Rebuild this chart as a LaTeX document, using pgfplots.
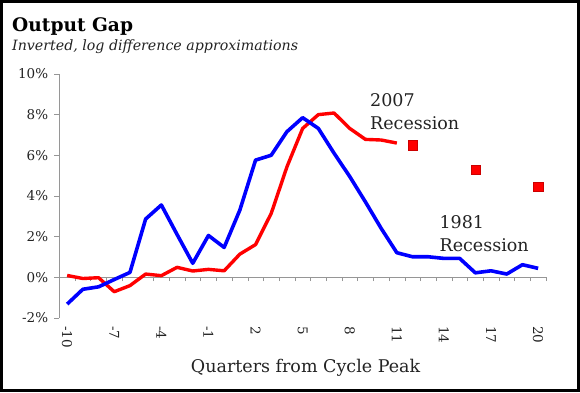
\documentclass[border=0pt]{standalone}
\usepackage{pgfplots}
\pgfplotsset{compat=1.18}
\usepackage{fontspec}
\setmainfont{DejaVu Serif}
\definecolor{axgray}{RGB}{150,150,150}
\definecolor{txt}{RGB}{35,35,35}
\begin{document}
\begin{tikzpicture}
\useasboundingbox (-59.3pt,-74.3pt) rectangle (520.7pt,317.7pt);
\begin{axis}[
  at={(0,0)}, anchor=south west,
  scale only axis, width=486.7pt, height=243.7pt,
  xmin=-10.5, xmax=20.5, ymin=-2, ymax=10,
  axis x line=middle, axis y line*=left,
  axis line style={axgray, -},
  tick align=outside,
  xtick={-10,-7,...,20},
  minor xtick={-10.5,-9.5,...,20.5},
  every major x tick/.style={draw=none},
  minor tick length=4pt,
  major tick length=5pt,
  tick style={axgray, thin},
  ytick={-2,0,...,10},
  yticklabel={\pgfmathprintnumber{\tick}\%},
  /pgf/number format/assume math mode=true,
  ticklabel style={font=\fontsize{13.5}{15}\selectfont, text=txt},
  yticklabel style={inner sep=1pt, xshift=-5pt},
  xticklabel style={rotate=-90, anchor=west, inner sep=0pt},
  xticklabel shift=44pt,
  clip=false,
]
\addplot[red, line width=3.4pt, line join=round] coordinates {
(-10,0.08) (-9,-0.07) (-8,-0.03) (-7,-0.72) (-6,-0.42) (-5,0.15) (-4,0.07)
(-3,0.48) (-2,0.30) (-1,0.38) (0,0.31) (1,1.13) (2,1.60) (3,3.14) (4,5.43)
(5,7.32) (6,8.00) (7,8.08) (8,7.32) (9,6.78) (10,6.75) (11,6.60)};
\addplot[only marks, mark=square*, mark size=4.6pt, color=red,
  mark options={fill=red, draw=red!80!black, line width=0.4pt}] coordinates {
(12,6.49) (16,5.27) (20,4.45)};
\addplot[blue, line width=3.6pt, line join=round] coordinates {
(-10,-1.33) (-9,-0.60) (-8,-0.48) (-7,-0.12) (-6,0.23) (-5,2.86) (-4,3.55)
(-3,2.10) (-2,0.68) (-1,2.05) (0,1.46) (1,3.30) (2,5.76) (3,6.00) (4,7.16)
(5,7.85) (6,7.32) (7,6.10) (8,4.95) (9,3.70) (10,2.40) (11,1.20) (12,1.00)
(13,1.00) (14,0.92) (15,0.92) (16,0.21) (17,0.31) (18,0.15) (19,0.61) (20,0.43)};
\node[anchor=base west, inner sep=0pt, text=txt, font=\fontsize{17.5}{20}\selectfont] at (axis cs:9.29,8.42) {2007};
\node[anchor=base west, inner sep=0pt, text=txt, font=\fontsize{17.5}{20}\selectfont] at (axis cs:9.29,7.27) {Recession};
\node[anchor=base west, inner sep=0pt, text=txt, font=\fontsize{17.5}{20}\selectfont] at (axis cs:13.71,2.40) {1981};
\node[anchor=base west, inner sep=0pt, text=txt, font=\fontsize{17.5}{20}\selectfont] at (axis cs:13.71,1.28) {Recession};
\node[anchor=base, inner sep=0pt, text=txt, font=\fontsize{17.5}{20}\selectfont] at (axis description cs:0.506,0) [yshift=-54.6pt] {Quarters from Cycle Peak};
\end{axis}
\node[anchor=base west, inner sep=0pt, font=\bfseries\fontsize{18.6}{21}\selectfont] at (-47.3pt,286pt) {Output Gap};
\node[anchor=base west, inner sep=0pt, text=txt, font=\itshape\fontsize{14.2}{16}\selectfont] at (-47.3pt,267.7pt) {Inverted, log difference approximations};
\draw[black, line width=3pt] (-57.8pt,-72.8pt) rectangle (519.2pt,316.2pt);
\end{tikzpicture}
\end{document}
